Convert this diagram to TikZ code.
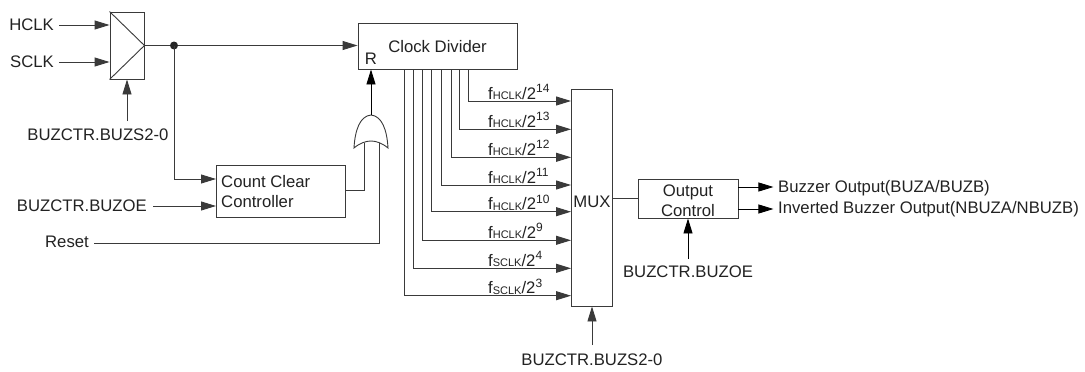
\documentclass[tikz,border=0pt]{standalone}
\usepackage{fontspec}
\setmainfont{Liberation Sans}
\usetikzlibrary{arrows.meta}
\definecolor{wire}{HTML}{3A3A3A}
\definecolor{ink}{HTML}{222222}
\newcommand{\divlabel}[2]{f{\fontsize{11}{12}\selectfont\raisebox{-0.4pt}{#1}}/2\raisebox{6.5pt}{\fontsize{12}{12}\selectfont #2}}
\tikzset{
  block/.style={draw=wire,line width=0.9pt,fill=white,inner sep=0pt,text=ink,align=center},
  lbl/.style={inner sep=0pt,text=ink},
  sig/.style={draw=wire,line width=0.9pt,-{Triangle[length=15pt,width=9pt]}},
  wireline/.style={draw=wire,line width=0.9pt}
}
\begin{document}
\begin{tikzpicture}[x=1pt,y=-1pt,font=\fontsize{16.7}{19}\selectfont]
\useasboundingbox (0,0) rectangle (1085,372);
% clock select
\node[block,minimum width=34pt,minimum height=67pt] (sel) at (127,45.5) {};
\draw[wireline] (sel.north west) -- (sel.east) -- (sel.south west);
\node[lbl,anchor=east] (hclk) at (54,25) {HCLK};
\node[lbl,anchor=east] (sclk) at (54,62) {SCLK};
\node[lbl] (selctr) at (98,135) {BUZCTR.BUZS2-0};
\coordinate (selin) at (127,121);
\draw[sig] (59,25 -| hclk.east) ++(5,0) -- (sel.west |- hclk.east);
\draw[sig] (59,62 -| sclk.east) ++(5,0) -- (sel.west |- sclk.east);
\draw[sig] (selin) -- (sel.south);
% divider
\node[block,minimum width=159pt,minimum height=46pt] (clkdiv) at (437.5,46) {};
\node[lbl] (divtext) at (437.5,46.5) {Clock Divider};
\node[lbl] (rpin) at (371,59) {R};
\coordinate (jn) at (174,45.5);
\draw[wireline] (sel.east) -- (jn);
\draw[sig] (jn) -- (clkdiv.west |- jn);
\fill[black!85] (jn) circle (4pt);
% count clear
\node[block,minimum width=129pt,minimum height=52pt] (clr) at (280.5,191) {};
\node[lbl,anchor=west,align=left,font=\fontsize{16.7}{20}\selectfont] (clrtext) at (221,191.5) {Count Clear\\Controller};
\node[lbl,anchor=east] (oeleft) at (147,206) {BUZCTR.BUZOE};
\node[lbl,anchor=east] (rst) at (89,242) {Reset};
\coordinate (clrin) at (216,179);
\coordinate (oein) at (216,206);
\draw[sig] (jn) |- (clrin);
\draw[sig] (oeleft.east) ++(6,0) -- (oein);
% or gate
\coordinate (ortop) at (371,115);
\coordinate (orleft) at (354,148);
\coordinate (orright) at (388,148);
\coordinate (orin1) at (364,143);
\coordinate (orin2) at (379,143);
\draw[wireline,fill=white] (ortop) .. controls (360,116) and (355,130) .. (orleft)
  .. controls (360,143) and (366,141) .. (371,141)
  .. controls (376,141) and (382,143) .. (orright)
  .. controls (387,130) and (382,116) .. (ortop);
\draw[sig,draw=black] (ortop) -- (ortop |- clkdiv.south);
\draw[wireline] (clr.east |- 0,190) -| (orin1);
\draw[wireline] (rst.east) ++(5,1) -| (orin2);
% mux
\node[block,minimum width=41pt,minimum height=217pt] (mux) at (592,197.5) {};
\node[lbl] (muxtext) at (592,201.5) {MUX};
\foreach \i/\xp/\yp/\src/\pw in {1/468/101/HCLK/14,2/459.3/129.3/HCLK/13,3/451.3/157.3/HCLK/12,4/441.3/185/HCLK/11,5/431/211.7/HCLK/10,6/422/240.3/HCLK/9,7/413.3/268.3/SCLK/4,8/404.3/295.7/SCLK/3}{
  \coordinate (tap\i) at (\xp,\yp);
  \draw[sig] (clkdiv.south -| tap\i) |- (mux.west |- tap\i);
  \node[lbl,anchor=base west] (rate\i) at (488,\yp-2) {\divlabel{\src}{\pw}};
}
\node[lbl] (muxctr) at (592,360) {BUZCTR.BUZS2-0};
\coordinate (muxin) at (592,345);
\draw[sig] (muxin) -- (mux.south);
% output
\node[block,minimum width=100pt,minimum height=39pt] (outctl) at (688,198.5) {};
\node[lbl,font=\fontsize{16.7}{19.5}\selectfont,align=center] (outtext) at (688,200.5) {Output\\Control};
\draw[wireline] (mux.east |- outctl.west) -- (outctl.west);
\node[lbl,anchor=west] (buz) at (778,188) {Buzzer Output(BUZA/BUZB)};
\node[lbl,anchor=west] (nbuz) at (778,209.5) {Inverted Buzzer Output(NBUZA/NBUZB)};
\draw[sig,draw=black] (outctl.east |- buz.west) ++(0,-1) -- ++(35,0);
\draw[sig,draw=black] (outctl.east |- nbuz.west) ++(0,-0.5) -- ++(35,0);
\node[lbl] (outoe) at (688,272) {BUZCTR.BUZOE};
\coordinate (outin) at (688,259);
\draw[sig,draw=black] (outin) -- (outctl.south);
\end{tikzpicture}
\end{document}
